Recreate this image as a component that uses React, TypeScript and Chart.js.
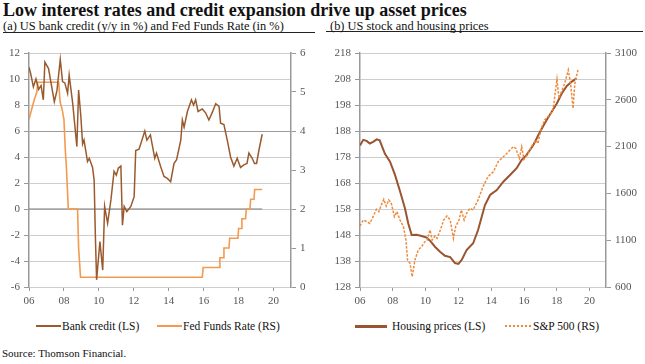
import React, { useEffect, useRef } from 'react';
import { Chart, registerables } from 'chart.js';

Chart.register(...registerables);

// ---------- data ----------
const YEAR_TICKS = [2006, 2008, 2010, 2012, 2014, 2016, 2018, 2020];

const CREDIT_X = [2006.0, 2006.1, 2006.25, 2006.4, 2006.55, 2006.69, 2006.82, 2006.91, 2007.12, 2007.26, 2007.45, 2007.6, 2007.79, 2007.92, 2008.05, 2008.21, 2008.3, 2008.5, 2008.74, 2008.84, 2008.97, 2009.07, 2009.15, 2009.35, 2009.45, 2009.64, 2009.73, 2009.8, 2009.87, 2010.06, 2010.22, 2010.33, 2010.5, 2010.69, 2010.87, 2011.0, 2011.12, 2011.26, 2011.35, 2011.45, 2011.6, 2011.83, 2012.02, 2012.11, 2012.3, 2012.63, 2012.75, 2012.95, 2013.2, 2013.3, 2013.54, 2013.73, 2013.92, 2014.11, 2014.3, 2014.45, 2014.69, 2014.78, 2014.88, 2015.07, 2015.3, 2015.42, 2015.54, 2015.68, 2015.92, 2016.11, 2016.3, 2016.5, 2016.69, 2016.88, 2016.97, 2017.16, 2017.35, 2017.54, 2017.73, 2017.92, 2018.11, 2018.3, 2018.48, 2018.59, 2018.78, 2018.91, 2019.03, 2019.16, 2019.35];
const CREDIT_Y = [10.9, 10.4, 9.4, 10.0, 9.2, 9.5, 8.4, 11.3, 10.8, 9.7, 8.25, 9.1, 11.5, 9.8, 9.7, 8.9, 10.3, 8.15, 4.8, 9.15, 7.1, 5.0, 5.3, 3.65, 3.9, 3.2, 2.2, -2.1, -5.45, -2.5, -4.7, 0.2, -1.1, 0.7, 2.9, 2.6, 3.15, 3.3, -1.25, 0.2, -0.2, 0.2, 0.95, 4.5, 4.6, 6.0, 5.3, 5.7, 3.9, 4.3, 3.25, 2.5, 2.35, 2.1, 3.5, 3.8, 5.3, 6.85, 6.3, 7.5, 8.4, 8.0, 8.4, 7.5, 7.7, 7.4, 6.85, 7.45, 8.1, 7.9, 6.6, 6.5, 5.3, 4.0, 3.3, 3.9, 3.2, 3.4, 3.5, 4.3, 3.9, 3.5, 3.5, 4.5, 5.75];

const FED_X = [2006.0, 2006.15, 2006.3, 2006.45, 2006.5, 2007.7, 2007.78, 2007.9, 2008.0, 2008.08, 2008.15, 2008.25, 2008.78, 2008.84, 2008.95, 2015.92, 2015.97, 2016.88, 2016.93, 2017.12, 2017.16, 2017.45, 2017.49, 2017.96, 2018.0, 2018.15, 2018.19, 2018.4, 2018.44, 2018.65, 2018.69, 2018.88, 2018.92, 2019.35];
const FED_Y = [4.3, 4.55, 4.8, 5.0, 5.25, 5.25, 4.75, 4.55, 4.3, 3.5, 3.0, 2.0, 2.0, 1.0, 0.25, 0.25, 0.5, 0.5, 0.75, 0.75, 1.0, 1.0, 1.25, 1.25, 1.5, 1.5, 1.75, 1.75, 2.0, 2.0, 2.25, 2.25, 2.5, 2.5];

const HOUSE_X = [2006.0, 2006.2, 2006.4, 2006.6, 2006.8, 2007.02, 2007.2, 2007.52, 2007.83, 2008.13, 2008.44, 2008.74, 2008.94, 2009.15, 2009.45, 2009.76, 2010.06, 2010.27, 2010.57, 2010.88, 2011.18, 2011.5, 2011.79, 2012.0, 2012.2, 2012.5, 2012.9, 2013.2, 2013.62, 2013.93, 2014.34, 2014.74, 2015.15, 2015.55, 2015.85, 2016.16, 2016.57, 2016.98, 2017.38, 2017.69, 2018.0, 2018.31, 2018.61, 2018.92, 2019.2];
const HOUSE_Y = [182.4, 184.6, 184.2, 183.2, 183.8, 184.8, 184.4, 179.2, 176.2, 171.2, 164.8, 158.3, 152.5, 148.0, 148.1, 147.6, 147.0, 145.8, 143.5, 141.6, 140.0, 139.5, 137.2, 136.9, 138.4, 142.2, 144.8, 149.9, 159.5, 163.4, 165.3, 168.5, 171.1, 173.7, 176.8, 178.8, 182.6, 187.7, 192.2, 195.4, 198.6, 202.5, 205.3, 207.0, 208.3];

const SP_X = [2006.0, 2006.2, 2006.4, 2006.6, 2006.8, 2007.0, 2007.15, 2007.3, 2007.45, 2007.6, 2007.75, 2007.9, 2008.1, 2008.25, 2008.44, 2008.65, 2008.8, 2008.9, 2009.05, 2009.18, 2009.35, 2009.55, 2009.76, 2009.96, 2010.1, 2010.27, 2010.4, 2010.57, 2010.7, 2010.9, 2011.1, 2011.3, 2011.5, 2011.7, 2011.83, 2012.04, 2012.18, 2012.35, 2012.5, 2012.7, 2012.9, 2013.2, 2013.5, 2013.8, 2014.13, 2014.43, 2014.74, 2015.05, 2015.35, 2015.5, 2015.72, 2015.86, 2016.0, 2016.2, 2016.45, 2016.71, 2016.85, 2017.05, 2017.26, 2017.56, 2017.77, 2018.01, 2018.13, 2018.28, 2018.48, 2018.7, 2018.84, 2018.99, 2019.1, 2019.29];
const SP_Y = [1252, 1316, 1300, 1280, 1351, 1430, 1405, 1476, 1537, 1465, 1530, 1500, 1351, 1405, 1316, 1245, 1102, 888, 853, 710, 888, 995, 1031, 1084, 1102, 1209, 1102, 1145, 1120, 1209, 1316, 1359, 1316, 1120, 1245, 1316, 1423, 1316, 1387, 1441, 1423, 1530, 1672, 1778, 1832, 1939, 1992, 2045, 2099, 2080, 1975, 2099, 1964, 2010, 2099, 2170, 2135, 2295, 2384, 2438, 2491, 2819, 2616, 2687, 2776, 2918, 2776, 2509, 2776, 2918];

// ---------- styling ----------
const SERIF = "'Liberation Serif', 'Times New Roman', serif";
const TICK_FONT = { family: SERIF, size: 11 };
const TICK_COLOR = '#555';
const GRID = '#cdcdcd';
const GRID_DARK = '#9a9a9a';
const AXIS = '#999';

const C_CREDIT = '#9a5a2e';
const C_FED = '#f39a4f';
const C_HOUSE = '#9b5430';
const C_SP = '#ef8a3a';

const pts = (xs: number[], ys: number[]) => xs.map((x, i) => ({ x, y: ys[i] }));

type PanelCfg = {
  leftMin: number; leftMax: number; leftStep: number;
  rightMin: number; rightMax: number; rightStep: number;
  leftWidth: number; rightWidth: number;
  darkValues: number[];
  datasets: any[];
  plugins?: any[];
};

const plain = (v: any) => String(v);

function buildChart(canvas: HTMLCanvasElement, p: PanelCfg) {
  return new Chart(canvas, {
    type: 'line',
    data: { datasets: p.datasets },
    plugins: p.plugins || [],
    options: {
      animation: false,
      responsive: false,
      maintainAspectRatio: false,
      layout: { padding: { top: 13, left: 0, right: 0, bottom: 0 } },
      plugins: { legend: { display: false }, tooltip: { enabled: false } },
      elements: { point: { radius: 0 }, line: { tension: 0 } },
      scales: {
        x: {
          type: 'linear',
          min: 2006,
          max: 2021,
          afterBuildTicks: (s: any) => { s.ticks = YEAR_TICKS.map((v) => ({ value: v })); },
          afterFit: (s: any) => { s.height = 23; },
          ticks: {
            font: TICK_FONT,
            color: TICK_COLOR,
            padding: 4,
            maxRotation: 0,
            autoSkip: false,
            callback: (v: any) => String(Number(v) % 100).padStart(2, '0'),
          },
          grid: { drawOnChartArea: false, tickLength: 4, tickColor: AXIS },
          border: { color: GRID, width: 1 },
        },
        y: {
          position: 'left',
          min: p.leftMin,
          max: p.leftMax,
          afterFit: (s: any) => { s.width = p.leftWidth; },
          ticks: { stepSize: p.leftStep, font: TICK_FONT, color: TICK_COLOR, padding: 4, callback: plain },
          grid: {
            color: (ctx: any) => (ctx.tick && p.darkValues.includes(ctx.tick.value) ? GRID_DARK : GRID),
            lineWidth: 1,
            tickLength: 5,
            tickColor: AXIS,
          },
          border: { color: AXIS, width: 1.5 },
        },
        y1: {
          position: 'right',
          min: p.rightMin,
          max: p.rightMax,
          afterFit: (s: any) => { s.width = p.rightWidth; },
          ticks: { stepSize: p.rightStep, font: TICK_FONT, color: TICK_COLOR, padding: 4, callback: plain },
          grid: { drawOnChartArea: false, tickLength: 5, tickColor: AXIS },
          border: { color: AXIS, width: 1.5 },
        },
      },
    } as any,
  });
}

const zeroLine = {
  id: 'zeroLine',
  beforeDatasetsDraw(chart: any) {
    const { ctx, scales } = chart;
    const x = scales.x;
    const y = scales.y;
    const py = y.getPixelForValue(0);
    ctx.save();
    ctx.strokeStyle = '#7d7d7d';
    ctx.lineWidth = 1.2;
    ctx.beginPath();
    ctx.moveTo(x.getPixelForValue(CREDIT_X[0]), py);
    ctx.lineTo(x.getPixelForValue(CREDIT_X[CREDIT_X.length - 1]), py);
    ctx.stroke();
    ctx.restore();
  },
};

function LeftPanel() {
  const ref = useRef<HTMLCanvasElement>(null);
  useEffect(() => {
    const chart = buildChart(ref.current!, {
      leftMin: -6, leftMax: 12, leftStep: 2,
      rightMin: 0, rightMax: 6, rightStep: 1,
      leftWidth: 29, rightWidth: 31,
      darkValues: [6],
      plugins: [zeroLine],
      datasets: [
        { label: 'Bank credit (LS)', data: pts(CREDIT_X, CREDIT_Y), yAxisID: 'y', borderColor: C_CREDIT, borderWidth: 1.5, pointRadius: 0, fill: false },
        { label: 'Fed Funds Rate (RS)', data: pts(FED_X, FED_Y), yAxisID: 'y1', borderColor: C_FED, borderWidth: 1.6, pointRadius: 0, fill: false },
      ],
    });
    return () => chart.destroy();
  }, []);
  return <canvas ref={ref} width={322} height={270} style={{ position: 'absolute', left: 0, top: 40, width: 322, height: 270 }} />;
}

function RightPanel() {
  const ref = useRef<HTMLCanvasElement>(null);
  useEffect(() => {
    const chart = buildChart(ref.current!, {
      leftMin: 128, leftMax: 218, leftStep: 10,
      rightMin: 600, rightMax: 3100, rightStep: 500,
      leftWidth: 38, rightWidth: 39,
      darkValues: [188],
      datasets: [
        { label: 'S&P 500 (RS)', data: pts(SP_X, SP_Y), yAxisID: 'y1', borderColor: C_SP, borderWidth: 1.5, borderDash: [2.5, 1.5], pointRadius: 0, fill: false },
        { label: 'Housing prices (LS)', data: pts(HOUSE_X, HOUSE_Y), yAxisID: 'y', borderColor: C_HOUSE, borderWidth: 2, pointRadius: 0, fill: false },
      ],
    });
    return () => chart.destroy();
  }, []);
  return <canvas ref={ref} width={323} height={270} style={{ position: 'absolute', left: 322, top: 40, width: 323, height: 270 }} />;
}

function LegendItem({ left, lineW, color, label, dashed, thick, gap }: { left: number; lineW: number; color: string; label: string; dashed?: boolean; thick: number; gap: number }) {
  return (
    <div style={{ position: 'absolute', left, top: 318, height: 16, display: 'flex', alignItems: 'center', fontFamily: SERIF, fontSize: 11.5, lineHeight: '16px', color: '#111', whiteSpace: 'nowrap' }}>
      <div style={{ width: lineW, height: 0, borderTop: `${thick}px ${dashed ? 'dotted' : 'solid'} ${color}`, marginRight: gap }} />
      <span>{label}</span>
    </div>
  );
}

export default function App() {
  const textBase: React.CSSProperties = { position: 'absolute', fontFamily: SERIF, color: '#111', whiteSpace: 'nowrap' };
  return (
    <div style={{ position: 'fixed', left: 0, top: 0, width: 645, height: 364, background: '#fff', overflow: 'hidden' }}>
      <div style={{ ...textBase, left: 3, top: 0, fontSize: 18, lineHeight: '20px', fontWeight: 'bold' }}>
        Low interest rates and credit expansion drive up asset prices
      </div>
      <div style={{ ...textBase, left: 3, top: 20, width: 312, height: 12, fontSize: 12.4, lineHeight: '12px', borderBottom: '1.5px solid #222' }}>
        (a) US bank credit (y/y in %) and Fed Funds Rate (in %)
      </div>
      <div style={{ ...textBase, left: 326, top: 20, width: 317, height: 12, fontSize: 12.4, lineHeight: '12px', borderBottom: '1.5px solid #222', paddingLeft: 4, boxSizing: 'border-box' }}>
        (b) US stock and housing prices
      </div>
      <LeftPanel />
      <RightPanel />
      <LegendItem left={36} lineW={25} gap={1} color={C_CREDIT} label="Bank credit (LS)" thick={2} />
      <LegendItem left={157} lineW={25} gap={1} color={C_FED} label="Fed Funds Rate (RS)" thick={2} />
      <LegendItem left={355} lineW={32} gap={5} color={C_HOUSE} label="Housing prices (LS)" thick={3} />
      <LegendItem left={505} lineW={26} gap={2} color={C_SP} label="S&P 500 (RS)" dashed thick={2} />
      <div style={{ ...textBase, left: 2, top: 346, fontSize: 11, lineHeight: '14px' }}>Source: Thomson Financial.</div>
    </div>
  );
}
